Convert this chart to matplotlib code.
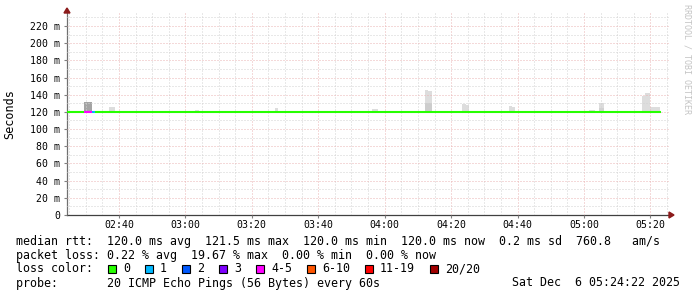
import matplotlib
matplotlib.use('Agg')
import matplotlib.pyplot as plt
from matplotlib.ticker import MultipleLocator, FuncFormatter
from matplotlib.patches import Rectangle, Polygon

W, H = 697, 297
MONO = 'DejaVu Sans Mono'

# time in minutes after midnight, rtt in ms
t_start = 144.37          # 02:24:22, 3h window
t_end = 323.3             # last sample drawn
median_rtt = 120.0

# smoke blocks: start, end, low, high, shade
smoke_t0 = [149.5, 157.0, 182.9, 207.0, 207.9, 236.2, 252.2, 253.1, 252.2, 254.3,
            263.3, 264.5, 277.5, 278.4, 301.6, 304.6, 304.6, 306.1, 317.5, 318.4, 319.9]
smoke_t1 = [151.9, 158.8, 184.1, 207.9, 210.9, 238.0, 253.1, 254.3, 254.3, 256.7,
            264.5, 265.4, 278.4, 279.3, 303.4, 306.1, 306.1, 307.0, 318.4, 319.9, 322.9]
smoke_lo = [119.0] * len(smoke_t0)
smoke_hi = [131.5, 125.7, 122.0, 124.5, 121.5, 123.0, 145.5, 144.7, 130.0, 121.5,
            129.6, 127.5, 127.0, 125.7, 122.6, 130.7, 125.0, 121.5, 138.5, 142.0, 125.7]
smoke_col = ['#a4a4a4', '#dddddd', '#dddddd', '#dddddd', '#dddddd', '#dddddd', '#dddddd',
             '#dddddd', '#cdcdcd', '#dddddd', '#dddddd', '#dddddd', '#dddddd', '#dddddd',
             '#dddddd', '#dddddd', '#d2d2d2', '#dddddd', '#dddddd', '#dddddd', '#dddddd']

# median line segments coloured by loss
loss_t0 = [144.37, 149.5, 151.9, 152.8]
loss_t1 = [149.5, 151.9, 152.8, 323.3]
loss_cls = ['0', '4-5', '1', '0']

loss_labels = ['0', '1', '2', '3', '4-5', '6-10', '11-19', '20/20']
loss_colors = ['#26ff00', '#00b8ff', '#0059ff', '#7e00ff', '#ff00ff', '#ff5500', '#ff0000', '#a10000']
lc = dict(zip(loss_labels, loss_colors))

stats_lines = [
    'median rtt:  120.0 ms avg  121.5 ms max  120.0 ms min  120.0 ms now  0.2 ms sd  760.8   am/s',
    'packet loss: 0.22 % avg  19.67 % max  0.00 % min  0.00 % now',
]
probe_line = 'probe:       20 ICMP Echo Pings (56 Bytes) every 60s'
date_text = 'Sat Dec  6 05:24:22 2025'


def px(x, y):
    return x / W, 1 - y / H


fig = plt.figure(figsize=(W / 100, H / 100), dpi=100)
fig.patch.set_facecolor('white')
ax = fig.add_axes([67 / W, 1 - 215 / H, 603 / W, 202 / H])
x_right = t_start + 603 / 3.322
ax.set_xlim(t_start, x_right)
ax.set_ylim(0, 235.1)

for a, b, lo, hi, c in zip(smoke_t0, smoke_t1, smoke_lo, smoke_hi, smoke_col):
    ax.bar(a, hi - lo, width=b - a, bottom=lo, align='edge', color=c, linewidth=0, zorder=1)

for a, b, k in zip(loss_t0, loss_t1, loss_cls):
    ax.plot([a, b], [median_rtt, median_rtt], color=lc[k], lw=1.5,
            solid_capstyle='butt', zorder=3)

ax.xaxis.set_major_locator(MultipleLocator(20))
ax.xaxis.set_minor_locator(MultipleLocator(5))
ax.yaxis.set_major_locator(MultipleLocator(20))
ax.yaxis.set_minor_locator(MultipleLocator(10))
ax.xaxis.set_major_formatter(FuncFormatter(lambda v, p: '%02d:%02d' % (int(v) // 60, int(v) % 60)))
ax.yaxis.set_major_formatter(FuncFormatter(lambda v, p: '0' if v == 0 else '%d m' % v))
ax.set_axisbelow(False)
ax.grid(which='minor', color='#d2d2d2', lw=0.72, linestyle=(0, (1, 2)), zorder=2)
ax.grid(which='major', color='#eab4b4', lw=0.72, linestyle=(0, (1, 2)), zorder=2)

ax.tick_params(which='major', length=2, width=0.8, color='#808080', pad=3, labelsize=7.1)
ax.tick_params(axis='x', pad=1.5)
ax.tick_params(which='minor', length=0)
for lab in ax.get_xticklabels() + ax.get_yticklabels():
    lab.set_family(MONO)

for s in ['top', 'right']:
    ax.spines[s].set_visible(False)
ax.spines['left'].set_color('#707070')
ax.spines['bottom'].set_color('#404040')
ax.spines['left'].set_linewidth(0.9)
ax.spines['bottom'].set_linewidth(0.9)

# arrows
fig.patches.append(Polygon([px(64, 13), px(70, 13), px(67, 8)], closed=True,
                           transform=fig.transFigure, color='#8b1a1a'))
fig.patches.append(Polygon([px(669, 212), px(669, 218), px(674, 215)], closed=True,
                           transform=fig.transFigure, color='#8b1a1a'))

fig.text(*px(10, 114), 'Seconds', rotation=90, ha='center', va='center',
         family=MONO, fontsize=8.5)
fig.text(*px(687, 4), 'RRDTOOL / TOBI OETIKER', rotation=270, ha='center', va='top',
         family=MONO, fontsize=6, color='#c4c4c4')

fs = 8.4
for i, line in enumerate(stats_lines):
    fig.text(*px(16, 241 + 14 * i), line, family=MONO, fontsize=fs, va='center', ha='left')

fig.text(*px(16, 269), 'loss color:', family=MONO, fontsize=fs, va='center', ha='left')
x = 108.0
for lab, col in zip(loss_labels, loss_colors):
    fig.patches.append(Rectangle(px(x, 273), 8 / W, 8 / H, transform=fig.transFigure,
                                 facecolor=col, edgecolor='black', lw=0.8))
    fig.text(*px(x + 15, 269), lab, family=MONO, fontsize=fs, va='center', ha='left')
    x += 15 + len(lab) * 7.0 + 15.0

fig.text(*px(16, 283), probe_line, family=MONO, fontsize=fs, va='center', ha='left')
fig.text(*px(680, 283), date_text, family=MONO, fontsize=fs, va='center', ha='right')

fig.savefig('out.png', dpi=100)
